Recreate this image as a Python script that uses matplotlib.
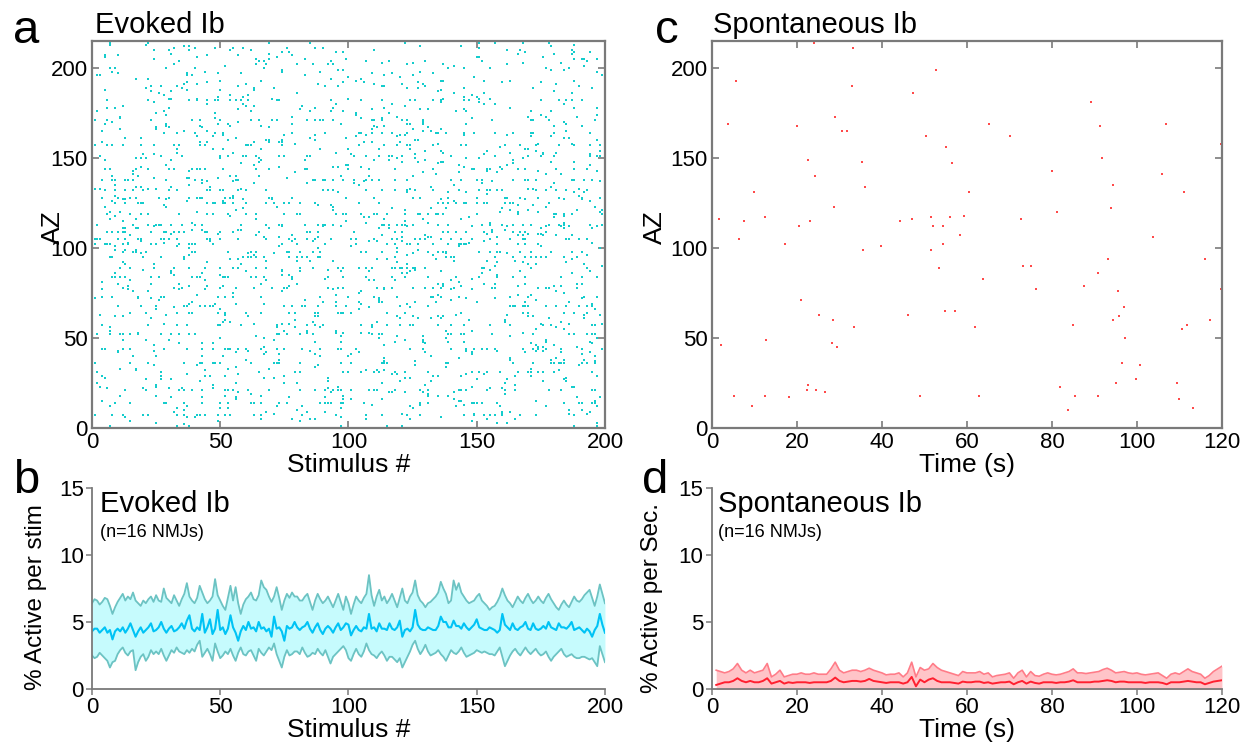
import numpy as np
import matplotlib
matplotlib.use("Agg")
import matplotlib.pyplot as plt

plt.rcParams['font.family'] = ['Liberation Sans', 'DejaVu Sans']

# ---- panel a: evoked raster (too dense to read dot by dot) ----
# rows that look clearly busier in the picture, and the rates read by eye
busy_az = [6, 13, 20, 30, 35, 43, 51, 56, 63, 67, 72, 77, 83, 88, 94, 97, 101,
           104, 108, 112, 118, 124, 127, 131, 137, 143, 150, 156, 163, 170, 181]
busy_rate = 0.15
base_rate = 0.03
n_stim = 200
n_az = 215

# ---- panel b: evoked % active per stim (n=16 NMJs) ----
evoked_mean = [
    4.3, 4.5, 4.5, 4.2, 4.4, 4.6, 4.2, 4.4, 3.7, 4.3,
    4.5, 4.3, 4.6, 4.2, 4.5, 4.9, 4.4, 3.9, 4.3, 4.6,
    4.2, 4.4, 4.6, 4.9, 4.3, 4.4, 4.6, 5.0, 4.5, 4.2,
    4.5, 4.7, 4.3, 4.4, 4.6, 4.9, 4.5, 5.1, 5.5, 4.5,
    4.3, 4.6, 4.4, 5.6, 4.2, 4.6, 5.2, 4.1, 4.5, 5.9,
    4.4, 4.6, 4.1, 4.5, 5.5, 4.6, 4.2, 3.6, 4.3, 4.7,
    4.4, 5.0, 4.5, 4.6, 4.3, 5.0, 4.5, 4.6, 4.3, 4.5,
    3.9, 5.4, 4.5, 4.6, 4.3, 3.6, 4.7, 4.5, 4.6, 5.0,
    4.6, 4.4, 4.6, 4.7, 5.0, 4.5, 4.2, 4.6, 4.9, 4.4,
    4.1, 4.5, 4.7, 4.5, 4.2, 4.6, 4.9, 4.4, 4.6, 4.9,
    4.8, 4.0, 4.4, 4.7, 4.4, 4.3, 4.6, 4.5, 5.6, 4.5,
    4.6, 4.3, 4.9, 4.5, 4.5, 4.4, 4.9, 4.5, 4.4, 4.6,
    5.1, 3.9, 4.4, 4.5, 4.3, 4.6, 5.9, 4.8, 4.5, 4.4,
    4.4, 4.6, 4.5, 4.4, 4.4, 4.7, 5.4, 5.0, 5.0, 4.6,
    4.6, 5.1, 4.7, 4.7, 4.5, 4.9, 4.6, 4.4, 4.6, 4.8,
    5.2, 4.6, 4.5, 4.4, 4.4, 4.6, 4.5, 4.4, 4.2, 4.4,
    5.6, 4.8, 4.6, 4.4, 4.9, 4.5, 4.4, 4.6, 4.7, 5.0,
    4.5, 4.4, 4.9, 4.5, 4.4, 4.5, 4.7, 4.5, 5.0, 4.6,
    4.5, 4.4, 4.9, 4.6, 4.6, 4.5, 4.7, 5.0, 4.4, 4.5,
    4.6, 4.4, 4.2, 4.5, 4.3, 3.9, 4.4, 4.7, 5.6, 4.8,
    4.2]
evoked_upper = [
    6.4, 6.7, 6.6, 6.3, 6.5, 6.8, 6.7, 6.2, 5.6, 6.1,
    6.5, 6.8, 7.1, 6.6, 6.9, 6.7, 7.2, 6.6, 6.4, 6.2,
    6.6, 6.4, 6.7, 6.9, 6.5, 7.0, 6.6, 6.5, 7.5, 6.8,
    6.6, 6.4, 7.0, 6.6, 6.2, 6.7, 7.1, 7.9, 6.9, 6.6,
    6.4, 6.8, 7.7, 7.2, 6.7, 6.4, 6.6, 6.9, 8.2, 7.0,
    6.6, 6.2, 5.9, 6.8, 7.7, 6.6, 7.6, 6.4, 5.6, 6.3,
    6.7, 6.9, 7.2, 6.7, 6.6, 7.0, 8.1, 7.6, 7.4, 6.9,
    6.5, 6.9, 7.6, 6.8, 5.9, 6.6, 7.1, 6.8, 7.2, 6.9,
    6.9, 6.6, 6.6, 6.9, 7.1, 6.5, 5.9, 6.6, 7.1, 6.7,
    6.4, 6.6, 6.9, 6.5, 6.1, 6.6, 7.1, 6.5, 5.9, 6.9,
    6.4, 5.6, 6.3, 6.9, 6.6, 6.4, 6.8, 7.1, 8.5, 7.0,
    6.2, 6.9, 7.4, 6.6, 6.9, 6.4, 6.7, 7.1, 6.6, 6.1,
    6.8, 7.5, 6.6, 6.4, 6.9, 7.2, 8.1, 7.0, 6.6, 6.4,
    6.1, 6.4, 6.5, 6.7, 6.9, 7.2, 8.0, 7.5, 7.1, 6.4,
    6.6, 8.1, 7.4, 7.9, 7.2, 6.9, 6.6, 6.4, 6.5, 6.6,
    6.9, 7.1, 6.6, 6.4, 6.2, 5.9, 6.1, 6.2, 6.5, 6.9,
    7.5, 7.0, 6.6, 6.4, 6.1, 6.5, 6.9, 6.6, 6.4, 6.8,
    7.1, 6.7, 6.4, 6.6, 6.9, 6.6, 6.4, 6.8, 7.1, 6.7,
    6.4, 6.1, 5.9, 6.3, 6.6, 6.3, 6.1, 6.5, 6.9, 6.6,
    6.5, 6.7, 7.0, 7.2, 7.4, 6.8, 6.2, 6.9, 7.8, 7.1,
    6.4]
evoked_lower = [
    2.5, 2.3, 2.4, 2.7, 2.5, 2.3, 2.1, 1.6, 2.0, 2.1,
    2.6, 2.9, 3.1, 2.7, 2.5, 2.8, 2.9, 1.4, 2.0, 2.4,
    2.6, 2.1, 2.4, 2.9, 2.6, 2.8, 2.6, 3.0, 2.5, 2.1,
    2.5, 2.9, 2.7, 3.1, 2.8, 2.7, 2.6, 2.9, 2.7, 3.0,
    2.8, 3.3, 3.6, 2.4, 2.7, 3.0, 2.6, 2.1, 3.4, 2.8,
    2.3, 2.5, 2.8, 2.6, 3.0, 2.5, 2.1, 2.7, 3.1, 2.6,
    2.5, 2.8, 2.9, 2.5, 2.1, 3.0, 2.7, 2.5, 2.8, 3.1,
    2.9, 3.4, 2.6, 2.1, 1.6, 2.4, 2.9, 2.5, 2.6, 2.8,
    2.8, 2.6, 3.1, 2.7, 2.4, 2.5, 2.7, 2.6, 3.0, 2.7,
    2.5, 2.9, 2.4, 1.9, 2.4, 2.6, 2.8, 3.0, 3.2, 2.9,
    2.3, 2.1, 2.6, 3.0, 2.6, 2.4, 2.8, 3.4, 2.9, 2.6,
    2.5, 2.3, 2.6, 2.8, 2.5, 2.1, 2.4, 2.4, 2.2, 2.0,
    2.3, 1.6, 2.0, 2.4, 2.8, 3.3, 3.6, 3.0, 2.6, 2.9,
    3.3, 2.8, 2.5, 2.6, 2.7, 2.9, 2.6, 2.4, 2.1, 2.5,
    2.9, 2.7, 2.6, 2.8, 3.1, 2.7, 2.4, 2.5, 2.6, 2.7,
    2.9, 2.8, 2.7, 2.8, 2.7, 2.6, 2.6, 2.5, 2.8, 3.1,
    2.4, 1.7, 2.1, 2.5, 2.8, 3.0, 2.7, 2.5, 2.8, 3.1,
    2.8, 2.6, 2.8, 3.0, 2.7, 2.5, 2.6, 2.8, 2.4, 2.1,
    2.4, 2.6, 2.8, 3.0, 2.6, 2.4, 2.5, 2.6, 2.4, 2.3,
    2.3, 2.4, 2.4, 2.3, 2.2, 2.3, 2.0, 1.7, 3.2, 2.6,
    2.0]

# ---- panel c: spontaneous events (time s, AZ) ----
spont_time = [
    24.1, 33.3, 5.6, 52.8, 32.9, 47.2, 28.9, 3.7, 20.0, 30.7, 31.8, 50.4, 55.1, 56.4,
    22.7, 35.2, 24.3, 35.9, 60.5, 9.9, 28.7, 1.6, 7.5, 12.4, 20.4, 23.1, 44.3, 47.1,
    51.6, 51.9, 54.3, 55.9, 59.3, 58.4, 6.4,
    89.3, 65.3, 91.3, 106.8, 70.2, 119.7, 91.7, 79.9, 105.8, 94.4, 111.1, 81.2, 94.0,
    72.7, 103.8,
    17.3, 35.6, 39.7, 51.5, 54.3, 53.4, 20.9, 25.3, 28.5, 33.4, 46.2, 54.8, 57.1, 2.2,
    12.7, 28.3, 29.4, 5.3, 12.5, 9.4, 18.2, 22.6, 22.4, 24.5, 26.7, 48.9,
    116.0, 73.3, 75.0, 93.1, 63.7, 76.3, 90.8, 87.5, 95.5, 119.8, 96.9, 95.8, 94.3,
    117.2, 110.5, 111.7, 62.0, 84.9, 97.3, 96.5, 100.7, 99.7, 95.1, 109.4, 81.8, 85.5,
    90.8, 62.8, 110.0, 83.7, 113.2]
spont_az = [
    214, 211, 193, 199, 190, 186, 173, 169, 168, 165, 165, 162, 156, 147,
    149, 148, 140, 134, 131, 131, 123, 116, 115, 117, 112, 115, 115, 116,
    117, 112, 112, 117, 118, 107, 105,
    181, 169, 168, 169, 162, 158, 150, 143, 141, 135, 131, 120, 122,
    116, 106,
    102, 99, 101, 99, 102, 89, 71, 63, 60, 56, 63, 65, 65, 46,
    49, 47, 45, 18, 18, 12, 17, 24, 21, 21, 20, 18,
    94, 90, 90, 94, 83, 77, 86, 79, 76, 77, 67, 62, 60,
    60, 55, 57, 56, 57, 50, 36, 35, 27, 25, 25, 23, 18,
    18, 18, 16, 10, 11]

# ---- panel d: spontaneous % active per second (n=16 NMJs) ----
spont_mean = [
    0.3, 0.4, 0.5, 0.5, 0.6, 0.8, 0.6, 0.5, 0.6, 0.5,
    0.5, 0.6, 0.8, 0.4, 0.5, 0.6, 0.4, 0.5, 0.45, 0.5,
    0.5, 0.5, 0.45, 0.5, 0.5, 0.5, 0.5, 0.6, 0.85, 0.6,
    0.5, 0.55, 0.6, 0.6, 0.55, 0.6, 0.75, 0.6, 0.55, 0.5,
    0.45, 0.5, 0.5, 0.5, 0.4, 0.5, 0.9, 0.2, 0.7, 0.5,
    0.7, 0.8, 0.6, 0.5, 0.5, 0.5, 0.45, 0.4, 0.55, 0.5,
    0.5, 0.55, 0.55, 0.45, 0.5, 0.4, 0.45, 0.5, 0.5, 0.55,
    0.35, 0.5, 0.6, 0.4, 0.55, 0.45, 0.4, 0.5, 0.5, 0.5,
    0.45, 0.5, 0.5, 0.55, 0.65, 0.5, 0.5, 0.5, 0.5, 0.55,
    0.55, 0.6, 0.65, 0.6, 0.5, 0.55, 0.55, 0.5, 0.5, 0.5,
    0.5, 0.45, 0.5, 0.5, 0.5, 0.45, 0.35, 0.5, 0.5, 0.5,
    0.55, 0.6, 0.55, 0.5, 0.5, 0.35, 0.45, 0.55, 0.6, 0.65]
spont_upper = [
    1.4, 1.3, 1.2, 1.3, 1.5, 1.9, 1.4, 1.2, 1.4, 1.2,
    1.3, 1.4, 1.9, 0.9, 1.1, 1.4, 0.9, 1.0, 1.1, 1.1,
    1.2, 1.1, 1.1, 1.2, 1.1, 1.1, 1.1, 1.5, 2.0, 1.4,
    1.2, 1.3, 1.4, 1.4, 1.3, 1.4, 1.55, 1.4, 1.3, 1.2,
    1.05, 1.1, 1.1, 1.2, 0.9, 1.2, 2.0, 0.9, 1.6, 1.4,
    1.5, 1.9, 1.6, 1.4, 1.3, 1.2, 1.1, 1.0, 1.3, 1.2,
    1.2, 1.2, 1.3, 1.1, 1.2, 0.9, 1.0, 1.05, 1.1, 1.2,
    0.8, 1.2, 1.4, 0.9, 1.3, 1.0, 0.95, 1.1, 1.2, 1.1,
    1.05, 1.1, 1.2, 1.3, 1.5, 1.2, 1.2, 1.15, 1.2, 1.25,
    1.3, 1.45, 1.55, 1.4, 1.2, 1.25, 1.3, 1.2, 1.15, 1.2,
    1.1, 1.05, 1.1, 1.15, 1.2, 1.0, 0.8, 1.1, 1.2, 1.1,
    1.3, 1.5, 1.3, 1.2, 1.1, 0.8, 1.0, 1.3, 1.5, 1.7]

CYAN_DOT = '#14cccc'
CYAN_FILL = '#c6fbfd'
CYAN_EDGE = '#6cc3c3'
CYAN_MEAN = '#00c3f5'
RED_DOT = '#ff4a4a'
RED_FILL = '#ffc4c8'
RED_EDGE = '#ff7c88'
RED_MEAN = '#ff2030'
SPINE = '#7a7a7a'


def style_raster(ax):
    for s in ax.spines.values():
        s.set_color(SPINE)
        s.set_linewidth(1.6)
    ax.tick_params(direction='in', length=5, width=1.2, colors='black',
                   labelsize=16, top=True, right=True, pad=3)
    ax.tick_params(which='both', color=SPINE)


def style_rate(ax):
    for side in ['top', 'right']:
        ax.spines[side].set_visible(False)
    for side in ['left', 'bottom']:
        ax.spines[side].set_color(SPINE)
        ax.spines[side].set_linewidth(1.3)
    ax.tick_params(direction='out', length=4, width=1.1, color=SPINE,
                   labelsize=16, pad=2)


fig = plt.figure(figsize=(12.53, 7.51), dpi=100)
ax_a = fig.add_axes([0.0734, 0.4301, 0.4094, 0.5153])
ax_c = fig.add_axes([0.5682, 0.4301, 0.4070, 0.5153])
ax_b = fig.add_axes([0.0734, 0.0826, 0.4094, 0.2676])
ax_d = fig.add_axes([0.5682, 0.0826, 0.4070, 0.2676])

# a
rng = np.random.default_rng(7)
rates = np.full(n_az, base_rate)
rates[busy_az] = busy_rate
hits = rng.random((n_az, n_stim)) < rates[:, None]
az_idx, stim_idx = np.nonzero(hits)
ax_a.plot(stim_idx + 1, az_idx + 1, 's', color=CYAN_DOT, ms=1.6, mew=0)
ax_a.set_xlim(0, 200)
ax_a.set_ylim(0, 215)
ax_a.set_xticks([0, 50, 100, 150, 200])
ax_a.set_yticks([0, 50, 100, 150, 200])
style_raster(ax_a)
ax_a.set_xlabel('Stimulus #', fontsize=19, labelpad=0)
ax_a.set_ylabel('AZ', fontsize=19, labelpad=0)
ax_a.yaxis.set_label_coords(-0.052, 0.52)
ax_a.text(0.006, 1.021, 'Evoked Ib', transform=ax_a.transAxes, fontsize=21,
          ha='left', va='baseline')

# c
ax_c.plot(spont_time, spont_az, 's', color=RED_DOT, ms=1.6, mew=0)
ax_c.set_xlim(0, 120)
ax_c.set_ylim(0, 215)
ax_c.set_xticks([0, 20, 40, 60, 80, 100, 120])
ax_c.set_yticks([0, 50, 100, 150, 200])
style_raster(ax_c)
ax_c.set_xlabel('Time (s)', fontsize=19, labelpad=0)
ax_c.set_ylabel('AZ', fontsize=19, labelpad=0)
ax_c.yaxis.set_label_coords(-0.088, 0.52)
ax_c.text(0.002, 1.021, 'Spontaneous Ib', transform=ax_c.transAxes, fontsize=21,
          ha='left', va='baseline')

# b
stim = np.arange(len(evoked_mean))
ax_b.fill_between(stim, evoked_lower, evoked_upper, color=CYAN_FILL, lw=0)
ax_b.plot(stim, evoked_upper, color=CYAN_EDGE, lw=1.3)
ax_b.plot(stim, evoked_lower, color=CYAN_EDGE, lw=1.3)
ax_b.plot(stim, evoked_mean, color=CYAN_MEAN, lw=1.5)
ax_b.set_xlim(0, 200)
ax_b.set_ylim(0, 15)
ax_b.set_xticks([0, 50, 100, 150, 200])
ax_b.set_yticks([0, 5, 10, 15])
style_rate(ax_b)
ax_b.set_xlabel('Stimulus #', fontsize=19, labelpad=0)
ax_b.set_ylabel('% Active per stim', fontsize=17.5, labelpad=0)
ax_b.yaxis.set_label_coords(-0.088, 0.455)
ax_b.text(0.016, 0.88, 'Evoked Ib', transform=ax_b.transAxes, fontsize=21,
          ha='left', va='baseline')
ax_b.text(0.016, 0.756, '(n=16 NMJs)', transform=ax_b.transAxes, fontsize=13,
          ha='left', va='baseline')

# d
secs = np.arange(1, len(spont_mean) + 1)
spont_lower = 2 * np.array(spont_mean) - np.array(spont_upper)
ax_d.fill_between(secs, spont_lower, spont_upper, color=RED_FILL, lw=0)
ax_d.plot(secs, spont_upper, color=RED_EDGE, lw=1.2)
ax_d.plot(secs, spont_lower, color=RED_EDGE, lw=1.2)
ax_d.plot(secs, spont_mean, color=RED_MEAN, lw=1.4)
ax_d.set_xlim(0, 120)
ax_d.set_ylim(0, 15)
ax_d.set_xticks([0, 20, 40, 60, 80, 100, 120])
ax_d.set_yticks([0, 5, 10, 15])
style_rate(ax_d)
ax_d.set_xlabel('Time (s)', fontsize=19, labelpad=0)
ax_d.set_ylabel('% Active per Sec.', fontsize=17.5, labelpad=0)
ax_d.yaxis.set_label_coords(-0.096, 0.455)
ax_d.text(0.012, 0.88, 'Spontaneous Ib', transform=ax_d.transAxes, fontsize=21,
          ha='left', va='baseline')
ax_d.text(0.012, 0.756, '(n=16 NMJs)', transform=ax_d.transAxes, fontsize=13,
          ha='left', va='baseline')

# panel letters
fig.text(0.0104, 0.9427, 'a', fontsize=34, va='baseline')
fig.text(0.5227, 0.9427, 'c', fontsize=34, va='baseline')
fig.text(0.0104, 0.3435, 'b', fontsize=34, va='baseline')
fig.text(0.5124, 0.3435, 'd', fontsize=34, va='baseline')

fig.savefig('out.png', dpi=100)
